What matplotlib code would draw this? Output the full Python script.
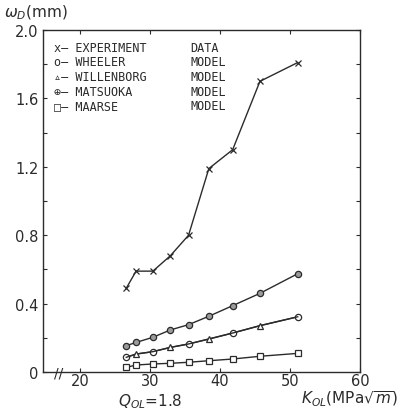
"""Crack retardation: experiment vs. model predictions."""

import matplotlib
matplotlib.use("Agg")
import matplotlib.pyplot as plt

# K_OL values (MPa sqrt m) shared by all series
k_ol = [26.6, 28.0, 30.4, 32.9, 35.5, 38.4, 41.8, 45.7, 51.1]

experiment = [0.49, 0.59, 0.59, 0.68, 0.80, 1.19, 1.30, 1.70, 1.81]
wheeler = [0.086, 0.105, 0.119, 0.144, 0.164, 0.193, 0.228, 0.271, 0.323]
willenborg = [0.086, 0.105, 0.119, 0.144, 0.164, 0.193, 0.228, 0.271, 0.323]
matsuoka = [0.154, 0.173, 0.203, 0.246, 0.277, 0.326, 0.388, 0.460, 0.575]
maarse = [0.027, 0.041, 0.047, 0.051, 0.057, 0.066, 0.076, 0.092, 0.109]

legend_rows = [
    ("x", "EXPERIMENT", "DATA"),
    ("o", "WHEELER", "MODEL"),
    ("\u25b5", "WILLENBORG", "MODEL"),
    ("\u2295", "MATSUOKA", "MODEL"),
    ("\u25a1", "MAARSE", "MODEL"),
]

ink = "#2b2b2b"

fig = plt.figure(figsize=(4.0, 4.14), dpi=100)
ax = fig.add_axes([0.1075, 0.099, 0.7925, 0.826])

lw = 1.0
ax.plot(k_ol, experiment, color=ink, lw=lw, marker="x", ms=4, mew=0.9)
ax.plot(k_ol, wheeler, color=ink, lw=lw, marker="o", ms=4.5, mfc="white",
        mew=0.9, markevery=[0, 2, 4, 6, 8])
ax.plot(k_ol, willenborg, color=ink, lw=lw, marker="^", ms=4, mfc="white",
        mew=0.9, markevery=[1, 3, 5, 7])
ax.plot(k_ol, matsuoka, color=ink, lw=lw, marker="o", ms=4.5, mfc="#9a9a9a",
        mew=0.9)
ax.plot(k_ol, maarse, color=ink, lw=lw, marker="s", ms=4, mfc="white", mew=0.9)

ax.set_xlim(14.7, 60)
ax.set_ylim(0, 2.0)
ax.set_xticks([20, 30, 40, 50, 60])
ax.set_yticks([0, 0.4, 0.8, 1.2, 1.6, 2.0])
ax.set_yticklabels(["0", "0.4", "0.8", "1.2", "1.6", "2.0"])
ax.set_yticks([0.2, 0.6, 1.0, 1.4, 1.8], minor=True)
ax.tick_params(axis="both", direction="in", top=True, right=True,
               labelsize=10.5, colors=ink, length=3, width=0.8, pad=3)
ax.tick_params(axis="y", which="minor", direction="in", right=True,
               length=3, width=0.8, colors=ink)
ax.tick_params(axis="x", pad=1)
for s in ax.spines.values():
    s.set_color(ink)
    s.set_linewidth(1.0)

# axis break mark
ax.text(17.0, 0.0, "//", ha="center", va="center", fontsize=10, color=ink,
        transform=ax.transData, clip_on=False)

# legend as typed text
mono = "DejaVu Sans Mono"
y0 = 1.90
for i, (sym, name, kind) in enumerate(legend_rows):
    y = y0 - i * 0.086
    ax.text(16.3, y, sym + "\u2014 " + name, fontsize=8.5, family=mono,
            color=ink, va="center")
    ax.text(35.8, y, kind, fontsize=8.5, family=mono, color=ink, va="center")

fig.text(0.01, 0.968, r"$\omega_D$(mm)", fontsize=11, color=ink, va="center")
fig.text(0.375, 0.03, r"$Q_{OL}$=1.8", fontsize=11, color=ink,
         ha="center", va="center")
fig.text(0.995, 0.035, r"$K_{OL}$(MPa$\sqrt{m}$)", fontsize=11, color=ink,
         ha="right", va="center")

fig.savefig("out.png", dpi=100)
